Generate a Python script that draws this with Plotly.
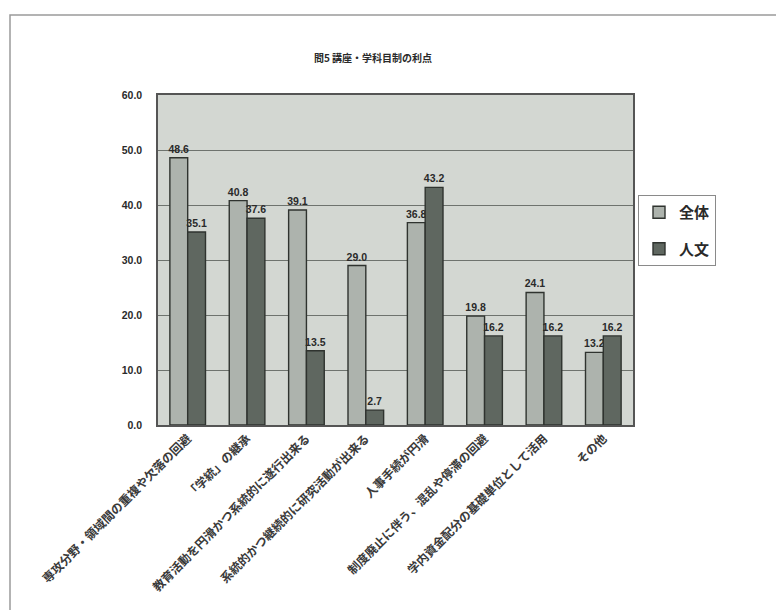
import plotly.graph_objects as go

# Survey Q5: advantages of the chair / course-subject system (%)
title_text = "問5 講座・学科目制の利点"
categories = [
    "専攻分野・領域間の重複や欠落の回避",
    "「学統」の継承",
    "教育活動を円滑かつ系統的に遂行出来る",
    "系統的かつ継続的に研究活動が出来る",
    "人事手続が円滑",
    "制度廃止に伴う、混乱や停滞の回避",
    "学内資金配分の基礎単位として活用",
    "その他",
]
series_names = ["全体", "人文"]
values_all = [48.6, 40.8, 39.1, 29.0, 36.8, 19.8, 24.1, 13.2]
values_hum = [35.1, 37.6, 13.5, 2.7, 43.2, 16.2, 16.2, 16.2]
y_ticks = [0, 10, 20, 30, 40, 50, 60]

JP = "Noto Sans CJK JP"
NUM = "Liberation Sans, Noto Sans CJK JP"
INK = "#2a2a2a"

# plot-area pixel frame inside the 776x610 page
L, R, T, B = 158, 143, 95, 185
W, H = 776, 610
pw, ph = W - L - R, H - T - B


def px_x(p):
    return (p - L) / pw


def px_y(p):
    return (H - B - p) / ph


fig = go.Figure()
for name, vals, fill in [
    (series_names[0], values_all, "#adb3ad"),
    (series_names[1], values_hum, "#5f6760"),
]:
    fig.add_trace(go.Bar(
        name=name,
        x=categories,
        y=vals,
        text=[f"{v:.1f}" for v in vals],
        textposition="outside",
        constraintext="none",
        textfont=dict(family=NUM, size=10.5, color=INK, weight="bold"),
        cliponaxis=False,
        marker=dict(color=fill, line=dict(color="#2f332f", width=1.4)),
        legendgroup=name,
    ))

fig.update_layout(
    width=W,
    height=H,
    margin=dict(l=L, r=R, t=T, b=B),
    paper_bgcolor="white",
    plot_bgcolor="#d3d7d2",
    barmode="group",
    bargap=0.4,
    bargroupgap=0.0,
    showlegend=True,
    legend=dict(
        x=px_x(638), y=px_y(195), xanchor="left", yanchor="top",
        bordercolor="#8a8a8a", borderwidth=1, bgcolor="white",
        font=dict(family=JP, size=15, color=INK, weight="bold"),
        tracegroupgap=14, traceorder="grouped",
        itemwidth=30, entrywidth=62,
    ),
    title=dict(
        text=title_text,
        xref="paper", x=px_x(373), xanchor="center",
        y=1 - 58 / H, yanchor="middle",
        font=dict(family=JP, size=10, color=INK, weight="bold"),
    ),
    xaxis=dict(
        tickangle=-45,
        tickfont=dict(family=JP, size=12, color="#3a3a3a", weight="bold"),
        showline=True, linecolor="#555", linewidth=1.5, mirror=True,
        ticks="",
    ),
    yaxis=dict(
        range=[0, 60],
        tickvals=y_ticks,
        tickformat=".1f",
        tickfont=dict(family=NUM, size=10.5, color=INK, weight="bold"),
        showgrid=True, gridcolor="#6e736e", gridwidth=1,
        showline=True, linecolor="#555", linewidth=1.5, mirror=True,
        zeroline=False,
        ticks="", ticklabelstandoff=12,
    ),
    shapes=[
        # outer frame of the chart sheet
        dict(type="rect", xref="paper", yref="paper",
             x0=px_x(10), y0=px_y(640), x1=px_x(800), y1=px_y(15),
             line=dict(color="#9a9a9a", width=1.5), layer="below"),
    ],
)

fig.write_html("out.html")
